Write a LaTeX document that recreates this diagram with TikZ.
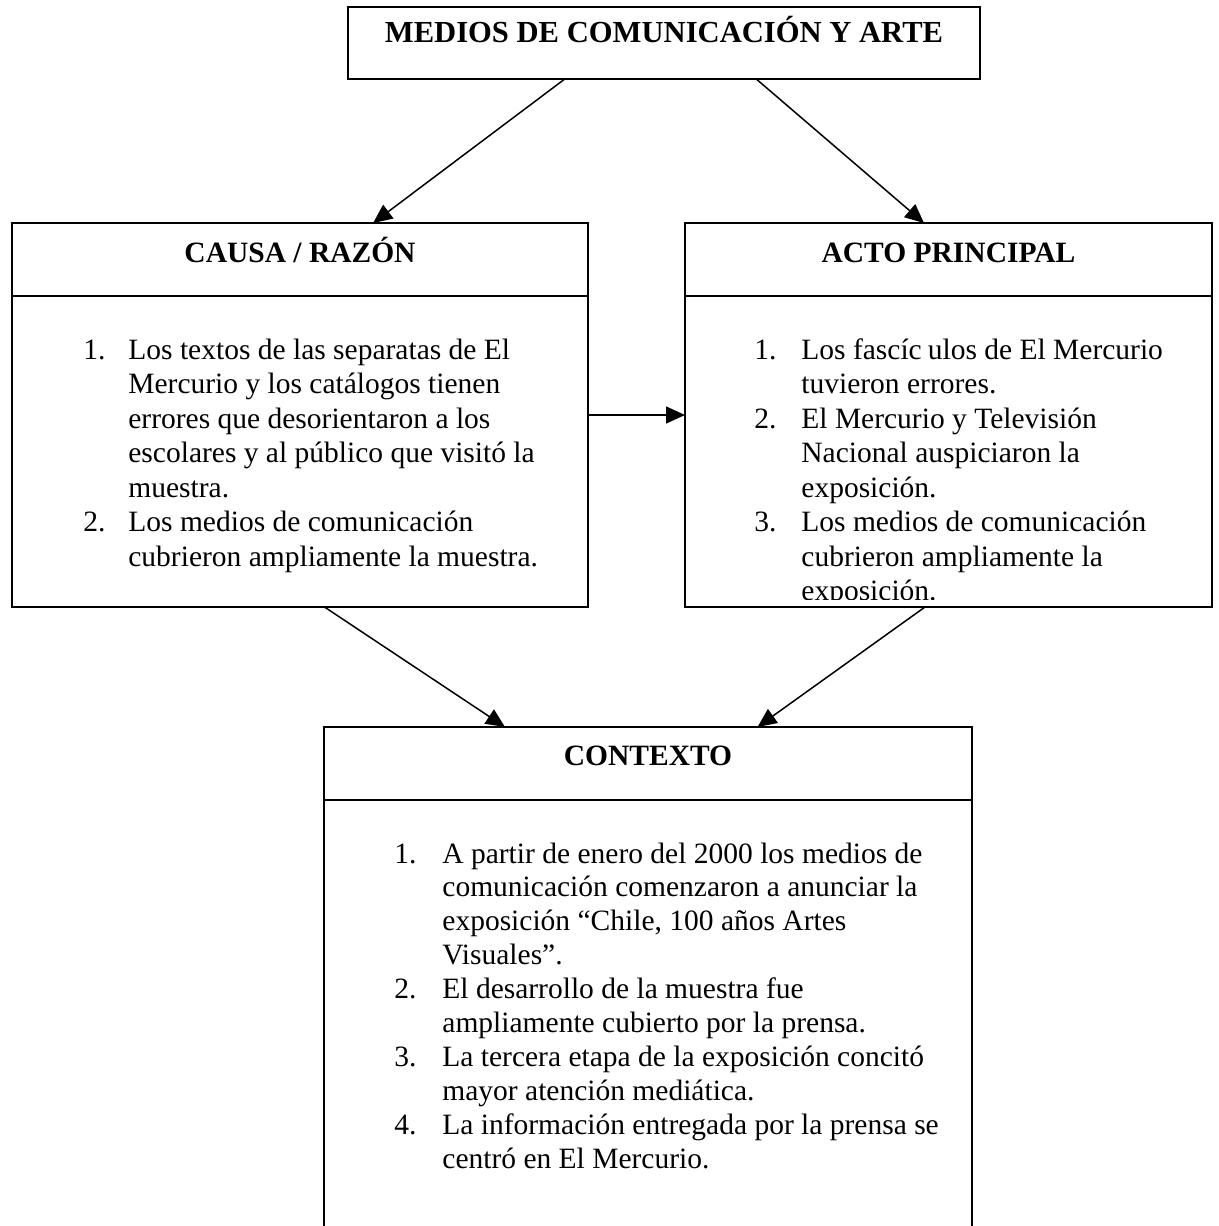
\documentclass[tikz,border=0pt]{standalone}
\usepackage{fontspec}
\setmainfont{Liberation Serif}
\usetikzlibrary{arrows.meta,calc}
\newlength\numw
\newcommand\lnum[1]{\makebox[\numw][l]{#1}}
\begin{document}
\begin{tikzpicture}[x=0.5pt,y=-0.5pt,
  box/.style={draw=black,line width=1pt,inner sep=0pt,outer sep=0pt,rectangle},
  divider/.style={draw=black,line width=1pt},
  conn/.style={draw=black,line width=0.75pt,-{Triangle[length=9.5pt,width=8.5pt]}},
  title/.style={font=\fontsize{14.75pt}{17.25pt}\selectfont\bfseries,inner sep=0pt,anchor=base},
  listtext/.style={font=\fontsize{14.75pt}{17.25pt}\selectfont,inner sep=0pt,anchor=base west},
]
\useasboundingbox (0,0) rectangle (1219,1226);
\clip (0,0) rectangle (1219,1226);

% boxes
\node[box,minimum width=316pt,minimum height=36pt] (top) at (664,43) {};
\node[box,minimum width=288pt,minimum height=192pt] (lbox) at (300,415) {};
\node[box,minimum width=263.5pt,minimum height=192pt] (rbox) at (948.5,415) {};
\node[box,minimum width=324pt,minimum height=260pt] (bbox) at (648,987) {};

% header dividers
\draw[divider] ($(lbox.north west)+(0,73)$) -- ($(lbox.north east)+(0,73)$);
\draw[divider] ($(rbox.north west)+(0,73)$) -- ($(rbox.north east)+(0,73)$);
\draw[divider] ($(bbox.north west)+(0,73)$) -- ($(bbox.north east)+(0,73)$);

% titles
\node[title,font=\fontsize{15.3pt}{17.25pt}\selectfont\bfseries] (ttop) at (664,42) {MEDIOS DE COMUNICACIÓN Y ARTE};
\node[title] (tl) at (300,262) {CAUSA / RAZÓN};
\node[title] (tr) at (948.5,262) {ACTO PRINCIPAL};
\node[title] (tb) at (648,765) {CONTEXTO};

% lists
\node[listtext] (lbody) at (83,359) {\setlength\numw{22.5pt}\vtop{%
  \hbox{\lnum{1.}Los textos de las separatas de El}
  \hbox{\lnum{}Mercurio y los catálogos tienen}
  \hbox{\lnum{}errores que desorientaron a los}
  \hbox{\lnum{}escolares y al público que visitó la}
  \hbox{\lnum{}muestra.}
  \hbox{\lnum{2.}Los medios de comunicación}
  \hbox{\lnum{}cubrieron ampliamente la muestra.}}};

\begin{scope}
\clip (rbox.north west) rectangle ($(rbox.south east)+(0,-8)$);
\node[listtext] (rbody) at (754,359) {\setlength\numw{23.5pt}\vtop{%
  \hbox{\lnum{1.}Los fascíc\hspace{3pt}ulos de El Mercurio}
  \hbox{\lnum{}tuvieron errores.}
  \hbox{\lnum{2.}El Mercurio y Televisión}
  \hbox{\lnum{}Nacional auspiciaron la}
  \hbox{\lnum{}exposición.}
  \hbox{\lnum{3.}Los medios de comunicación}
  \hbox{\lnum{}cubrieron ampliamente la}
  \hbox{\lnum{}exposición.}}};
\end{scope}

\node[listtext] (bbody) at (394,863) {\setlength\numw{24pt}\baselineskip=16.95pt\vtop{%
  \hbox{\lnum{1.}A partir de enero del 2000 los medios de}
  \hbox{\lnum{}comunicación comenzaron a anunciar la}
  \hbox{\lnum{}exposición “Chile, 100 años Artes}
  \hbox{\lnum{}Visuales”.}
  \hbox{\lnum{2.}El desarrollo de la muestra fue}
  \hbox{\lnum{}ampliamente cubierto por la prensa.}
  \hbox{\lnum{3.}La tercera etapa de la exposición concitó}
  \hbox{\lnum{}mayor atención mediática.}
  \hbox{\lnum{4.}La información entregada por la prensa se}
  \hbox{\lnum{}centró en El Mercurio.}}};

% connectors
\draw[conn] ($(top.south west)!0.343!(top.south east)$) -- ($(lbox.north west)!0.627!(lbox.north east)$);
\draw[conn] ($(top.south west)!0.646!(top.south east)$) -- ($(rbox.north west)!0.4535!(rbox.north east)$);
\draw[conn] (lbox.east) -- (rbox.west);
\draw[conn] ($(lbox.south west)!0.5425!(lbox.south east)$) -- ($(bbox.north west)!0.2793!(bbox.north east)$);
\draw[conn] ($(rbox.south west)!0.4554!(rbox.south east)$) -- ($(bbox.north west)!0.669!(bbox.north east)$);
\end{tikzpicture}
\end{document}
